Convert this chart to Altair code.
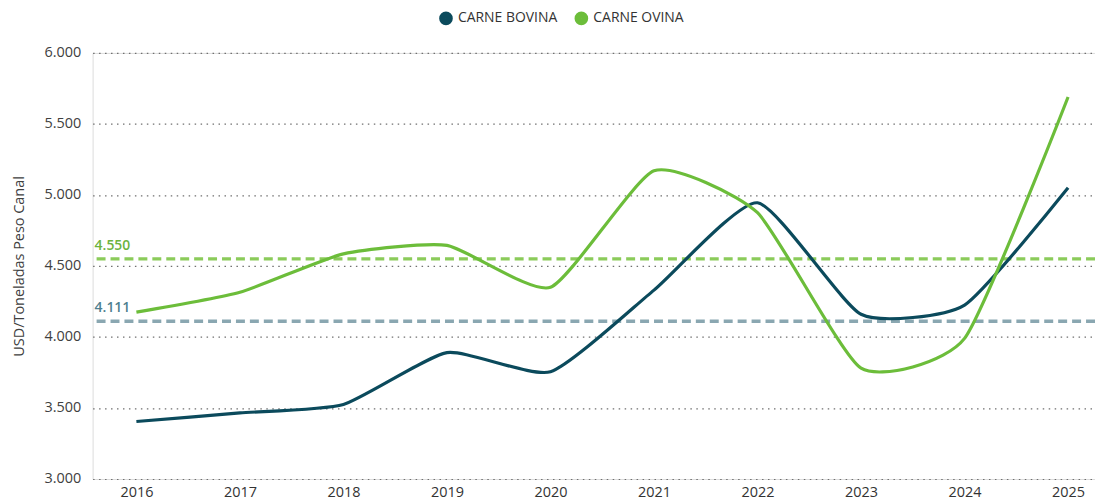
import altair as alt
import pandas as pd

years = [2016, 2017, 2018, 2019, 2020, 2021, 2022, 2023, 2024, 2025]
bovina = [3405, 3465, 3525, 3890, 3755, 4330, 4945, 4160, 4225, 5050]
ovina = [4175, 4315, 4585, 4645, 4350, 5170, 4875, 3780, 3990, 5690]
series_names = ["CARNE BOVINA", "CARNE OVINA"]
avg_values = [4111, 4550]
avg_labels = ["4.111", "4.550"]
colors = ["#0B4A5C", "#6CBD3A"]
avg_colors = ["#8AA7B1", "#8BCB5A"]
avg_text_colors = ["#4F7F90", "#6CB33F"]

rows = []
for y, b, o in zip(years, bovina, ovina):
    rows.append({"year": y, "serie": series_names[0], "value": b})
    rows.append({"year": y, "serie": series_names[1], "value": o})
df = pd.DataFrame(rows)
avg_df = pd.DataFrame({"serie": series_names, "avg": avg_values, "label": avg_labels})

FONT = "Open Sans"
xscale = alt.Scale(domain=[2015.577, 2025.26], nice=False, zero=False)
yscale = alt.Scale(domain=[3000, 6000], nice=False, zero=False)

lines = alt.Chart(df).mark_line(strokeWidth=3.2, interpolate="cardinal", tension=0.45).encode(
    x=alt.X("year:Q", scale=xscale,
            axis=alt.Axis(values=years, format="d", title=None, grid=False, domain=False,
                          ticks=False, labelFont=FONT, labelFontSize=14.5, labelColor="#333333",
                          labelPadding=7)),
    y=alt.Y("value:Q", scale=yscale,
            axis=alt.Axis(values=[3000, 3500, 4000, 4500, 5000, 5500, 6000],
                          labelExpr="replace(format(datum.value, ',d'), ',', '.')",
                          title="USD/Toneladas Peso Canal", titleFont=FONT, titleFontSize=14.5,
                          titleFontWeight="normal", titleColor="#404040", titlePadding=17,
                          labelFont=FONT, labelFontSize=14.5, labelColor="#404040", labelPadding=12,
                          domain=False, ticks=False, grid=True, gridColor="#6f6f6f",
                          gridDash=[1.5, 4.5], gridWidth=1.2)),
    color=alt.Color("serie:N", scale=alt.Scale(domain=series_names, range=colors),
                    legend=alt.Legend(title=None, orient="none", legendX=348, legendY=-42,
                                      direction="horizontal", symbolType="circle",
                                      symbolSize=45, symbolStrokeWidth=7, labelFont=FONT,
                                      labelFontSize=14, labelColor="#333333", columnPadding=6,
                                      labelOffset=5)),
)

rules = alt.Chart(avg_df).mark_rule(strokeDash=[9, 5], strokeWidth=3.5).encode(
    y=alt.Y("avg:Q", scale=yscale),
    color=alt.Color("serie:N", scale=alt.Scale(domain=series_names, range=avg_colors), legend=None),
)

texts = alt.Chart(avg_df).mark_text(align="left", baseline="bottom", dy=-6, font=FONT,
                                    fontSize=14, fontWeight=600).encode(
    x=alt.value(2),
    y=alt.Y("avg:Q", scale=yscale),
    text="label:N",
    color=alt.Color("serie:N", scale=alt.Scale(domain=series_names, range=avg_text_colors),
                    legend=None),
)

chart = alt.layer(rules, lines, texts).resolve_scale(color="independent").properties(
    width=1007, height=428,
    autosize=alt.AutoSizeParams(type="none"),
    padding={"left": 85, "top": 44, "right": 0, "bottom": 30},
).configure_view(stroke=None).configure(background="white")

chart.save("out.html", embed_options={"renderer": "svg", "actions": False})
